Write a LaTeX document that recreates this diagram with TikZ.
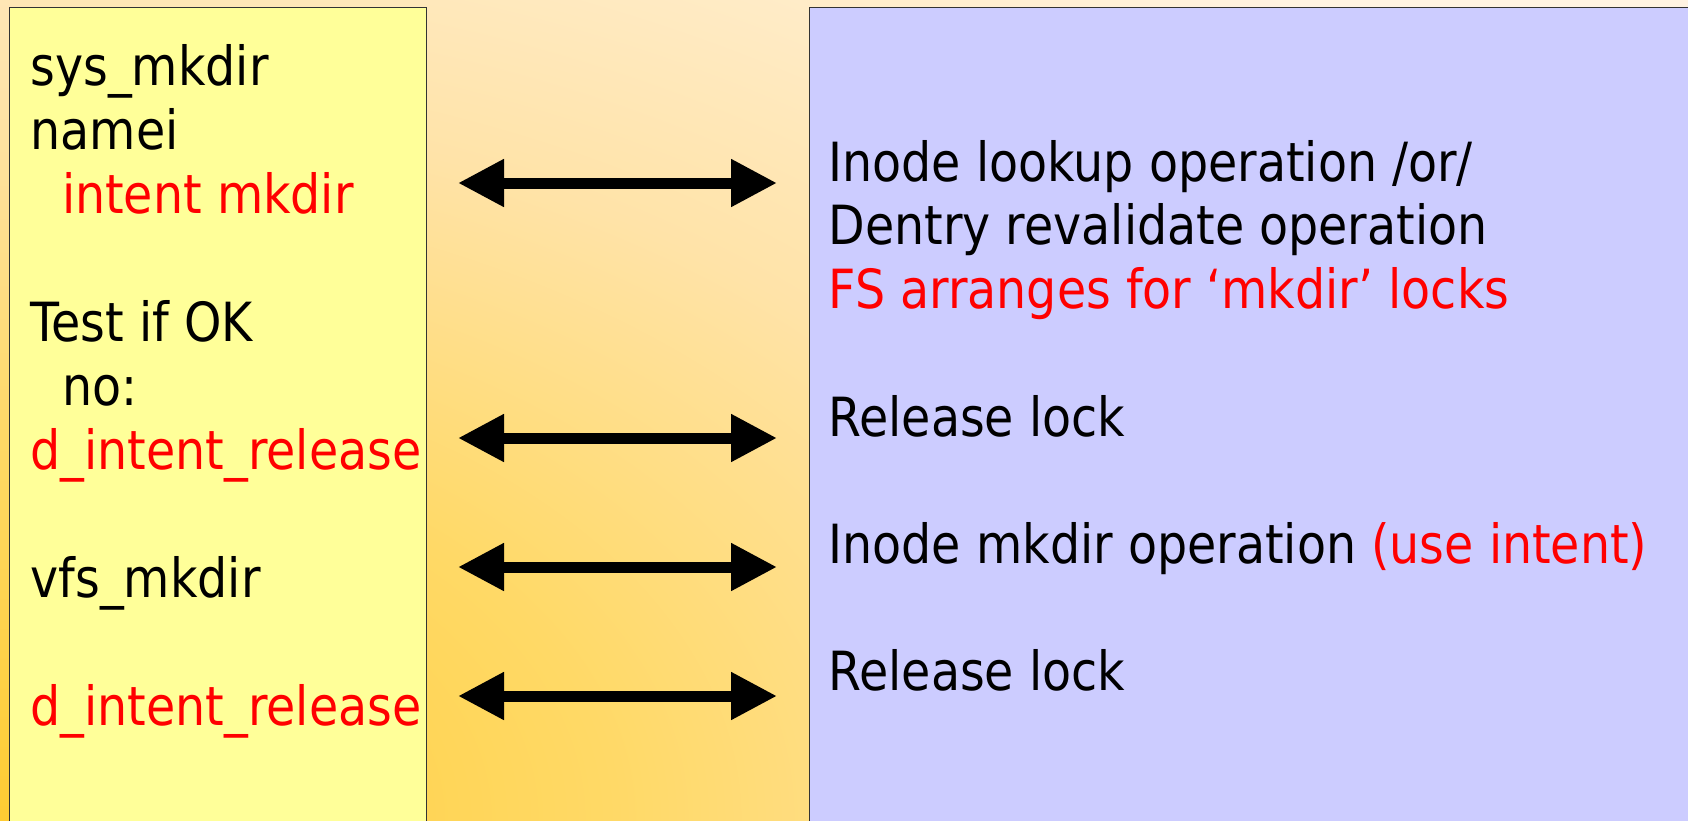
\documentclass[tikz,border=0pt]{standalone}
\usepackage{fontspec}
\setmainfont{DejaVu Sans}[FakeStretch=0.88]
\usetikzlibrary{arrows.meta}

\definecolor{callyellow}{HTML}{FFFF99}
\definecolor{fsblue}{HTML}{CCCCFF}
\definecolor{hot}{HTML}{FF0000}
\definecolor{glowA}{HTML}{FFCC33}
\definecolor{glowB}{HTML}{FFD966}
\definecolor{glowC}{HTML}{FFE3A8}
\definecolor{glowD}{HTML}{FFF3E2}
\definecolor{edge}{HTML}{333333}

% warm glow rising from the lower left corner
% (the rectangle it fills reaches the 50bp circle at its corners)
\pgfdeclareradialshading{warmglow}{\pgfpoint{0bp}{0bp}}{%
  color(0bp)=(glowA); color(11.7bp)=(glowB); color(21.9bp)=(glowC);
  color(35.4bp)=(glowD); color(50bp)=(glowD)}

\tikzset{
  panel/.style={draw=edge, line width=1.3pt, rectangle, inner sep=0pt,
    anchor=north west},
  txt/.style={anchor=base west, inner sep=0pt, outer sep=0pt,
    font=\fontsize{54}{64}\selectfont},
  hl/.style={txt, text=hot},
  both/.style={{Triangle[length=46pt,width=45pt]}-{Triangle[length=46pt,width=45pt]},
    line width=11pt, black},
}

\begin{document}
\begin{tikzpicture}[x=1pt,y=-1pt]
\useasboundingbox (0,0) rectangle (1688,820);

% background
\begin{scope}
  \clip (0,0) rectangle (1688,820);
  \fill[glowD] (0,0) rectangle (1688,820);
  \shade[shading=warmglow] (-1300,0) rectangle (1300,1640);
\end{scope}

% the two panels
\node[panel, fill=callyellow, minimum width=417pt, minimum height=840pt]
  (calls) at (9,7) {};
\node[panel, fill=fsblue, minimum width=900pt, minimum height=840pt]
  (fs) at (809,7) {};

% left column: VFS call sequence
\node[txt] (l1) at (30.5,85)  {sys\_mkdir};
\node[txt] (l2) at (30.5,149) {namei};
\node[hl]  (l3) at (62,213)   {intent mkdir};
\node[txt] (l4) at (30.5,341) {Test if OK};
\node[txt] (l5) at (62,405)   {no:};
\node[hl]  (l6) at (30.5,469) {d\_intent\_release};
\node[txt] (l7) at (30.5,597) {vfs\_mkdir};
\node[hl]  (l8) at (30.5,725) {d\_intent\_release};

% right column: file system operations
\node[txt] (r1) at (828.5,181)   {Inode lookup operation /or/};
\node[txt] (r2) at (828.5,244.5) {Dentry revalidate operation};
\node[hl]  (r3) at (828.5,308)   {FS arranges for ‘mkdir’ locks};
\node[txt] (r4) at (828.5,436)   {Release lock};
\node[txt] (r5) at (828.5,563)   {Inode mkdir operation \textcolor{hot}{(use intent)}};
\node[txt] (r6) at (828.5,690)   {Release lock};

% double-headed arrows between the panels
\foreach \k/\y in {1/183, 2/438, 3/567, 4/696} {
  \coordinate (a\k) at (458,\y);
  \coordinate (b\k) at (777,\y);
  \draw[both] (a\k) -- (b\k);
}
\end{tikzpicture}
\end{document}
